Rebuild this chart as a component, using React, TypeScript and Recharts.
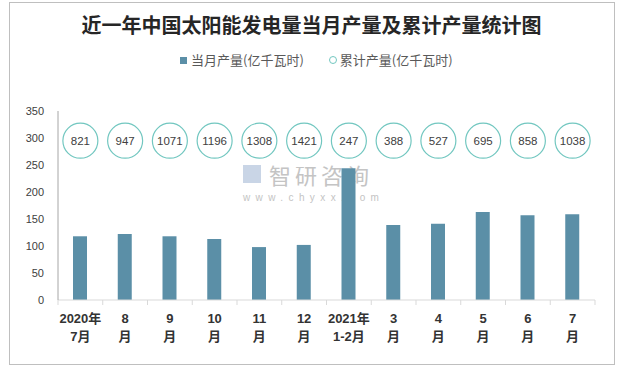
import React from 'react';
import { BarChart, Bar, Line, XAxis, YAxis } from 'recharts';

// 当月产量 (亿千瓦时)
const monthly = [118, 122, 118, 113, 98, 102, 244, 139, 141, 163, 157, 159];
// 累计产量 (亿千瓦时)
const cumulative = [821, 947, 1071, 1196, 1308, 1421, 247, 388, 527, 695, 858, 1038];
// x tick labels, two lines each
const labelTop = ['2020年', '8', '9', '10', '11', '12', '2021年', '3', '4', '5', '6', '7'];
const labelBottom = ['7月', '月', '月', '月', '月', '月', '1-2月', '月', '月', '月', '月', '月'];
const yTicks = [0, 50, 100, 150, 200, 250, 300, 350];
// the circles with cumulative values sit on a fixed row near the top
const badgeLevel = 295;

const data = monthly.map((v, i) => ({
  name: labelTop[i] + labelBottom[i],
  monthly: v,
  cumulative: cumulative[i],
  badge: badgeLevel,
}));

const W = 625;
const H = 368;
const margin = { top: 111, right: 30, bottom: 0, left: 0 };
const yAxisW = 58;
const xAxisH = 68;
const band = (W - margin.left - margin.right - yAxisW) / data.length;

const barColor = '#5b8fa7';
const ringColor = '#72c7c0';
const font = '"Liberation Sans", "Noto Sans CJK SC", sans-serif';

function XTick(props: any) {
  const { x, y, payload } = props;
  const i = payload.index;
  return (
    <g>
      <line x1={x - band / 2} x2={x - band / 2} y1={y} y2={y + 5} stroke="#d9d9d9" />
      {i === data.length - 1 && (
        <line x1={x + band / 2} x2={x + band / 2} y1={y} y2={y + 5} stroke="#d9d9d9" />
      )}
      <text x={x} y={y + 23} textAnchor="middle" fontSize={13} fontWeight="bold" fill="#333" fontFamily={font}>
        {labelTop[i]}
      </text>
      <text x={x} y={y + 41} textAnchor="middle" fontSize={13} fontWeight="bold" fill="#333" fontFamily={font}>
        {labelBottom[i]}
      </text>
    </g>
  );
}

function Badge(props: any) {
  const { cx, cy, index } = props;
  if (cx == null || cy == null) return null;
  return (
    <g key={index}>
      <circle cx={cx} cy={cy} r={17.5} fill="#fff" stroke={ringColor} strokeWidth={1.2} />
      <text x={cx} y={cy + 4} textAnchor="middle" fontSize={11.5} fill="#404040" fontFamily={font}>
        {cumulative[index]}
      </text>
    </g>
  );
}

export default function App() {
  return (
    <div style={{ position: 'absolute', left: 0, top: 0, width: W, height: H, background: '#fff', fontFamily: font }}>
      {/* outer frame */}
      <div style={{ position: 'absolute', left: 9, top: 2, width: 604, height: 361, border: '1px solid #bfbfbf' }} />

      {/* title */}
      <div style={{ position: 'absolute', left: 0, top: 12, width: W - 2, textAlign: 'center', fontSize: 20, fontWeight: 'bold', color: '#262626', fontFamily: '"Noto Sans CJK SC", sans-serif', lineHeight: '26px' }}>
        近一年中国太阳能发电量当月产量及累计产量统计图
      </div>

      {/* legend */}
      <div style={{ position: 'absolute', left: 180, top: 51, display: 'flex', alignItems: 'center', fontSize: 13, color: '#595959', fontFamily: '"Noto Sans CJK SC", sans-serif', lineHeight: '18px' }}>
        <span style={{ display: 'inline-block', width: 7, height: 7, background: barColor, marginRight: 4 }} />
        <span>当月产量(亿千瓦时)</span>
        <span style={{ display: 'inline-block', width: 6, height: 6, border: `1px solid ${ringColor}`, borderRadius: '50%', marginLeft: 25, marginRight: 3 }} />
        <span>累计产量(亿千瓦时)</span>
      </div>

      {/* watermark */}
      <div style={{ position: 'absolute', left: 243, top: 162, color: '#c4c4c4', fontFamily: '"Noto Sans CJK SC", sans-serif' }}>
        <div style={{ display: 'flex', alignItems: 'center', height: 24 }}>
          <span style={{ display: 'inline-block', width: 18, height: 18, background: '#c9d5e6', marginRight: 8 }} />
          <span style={{ fontSize: 22, lineHeight: '24px', letterSpacing: 4 }}>智研咨询</span>
        </div>
        <div style={{ fontSize: 10, lineHeight: '11px', letterSpacing: 5.4, marginTop: 6, fontFamily: font }}>www.chyxx.com</div>
      </div>

      <div style={{ position: 'absolute', left: 0, top: 0 }}>
        <BarChart width={W} height={H} data={data} margin={margin} barCategoryGap={0}>
          <XAxis
            dataKey="name"
            height={xAxisH}
            interval={0}
            tickLine={false}
            tickSize={0}
            tickMargin={0}
            axisLine={{ stroke: '#d9d9d9' }}
            tick={<XTick />}
          />
          <YAxis
            width={yAxisW}
            domain={[0, 350]}
            ticks={yTicks}
            interval={0}
            tickLine={false}
            tickSize={0}
            tickMargin={14}
            axisLine={{ stroke: '#a6a6a6' }}
            tick={{ fontSize: 11, fill: '#404040', fontFamily: font }}
          />
          <Bar dataKey="monthly" fill={barColor} barSize={14} isAnimationActive={false} />
          <Line dataKey="badge" stroke="none" dot={<Badge />} activeDot={false} isAnimationActive={false} />
        </BarChart>
      </div>
    </div>
  );
}
